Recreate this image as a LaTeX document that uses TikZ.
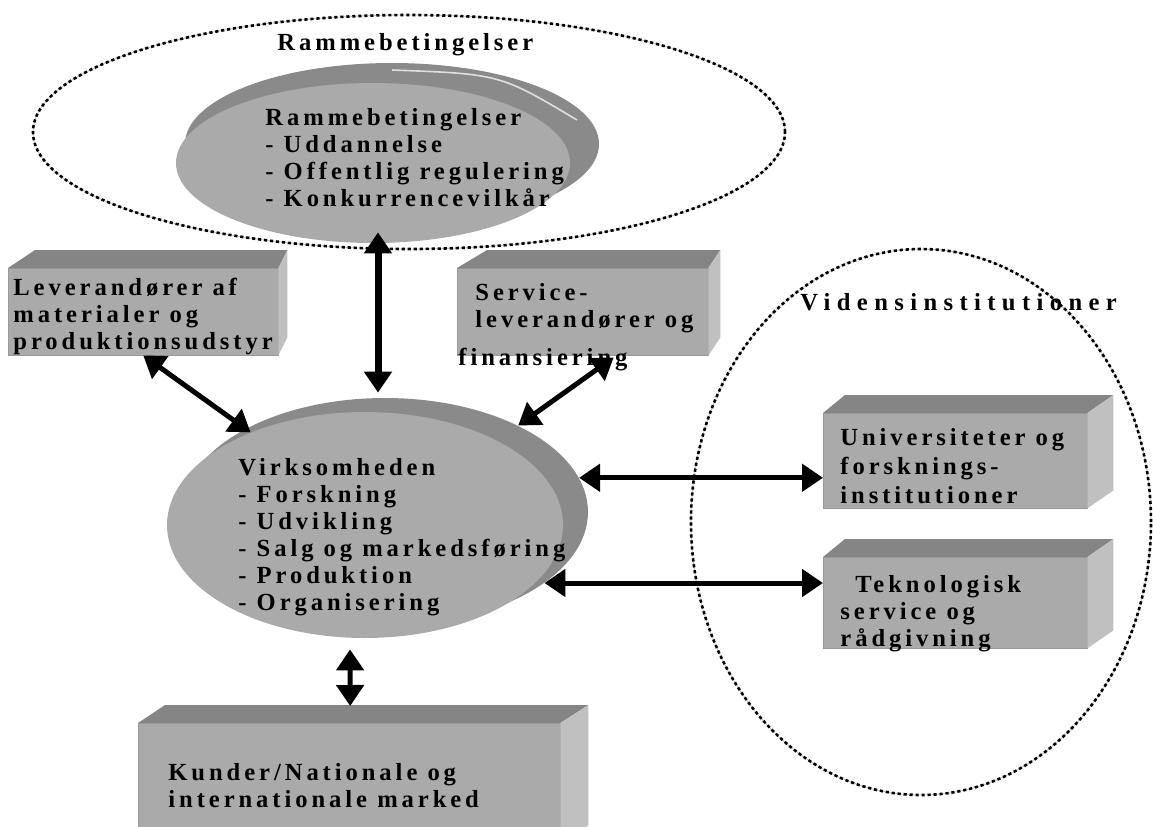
\documentclass[tikz,border=0pt]{standalone}
\usepackage{fontspec}
\setmainfont{Liberation Serif}
\newfontfamily\spaced[LetterSpace=16, BoldFont={Liberation Serif Bold}]{Liberation Serif}
\newfontfamily\wide[LetterSpace=26, BoldFont={Liberation Serif Bold}]{Liberation Serif}
\usetikzlibrary{positioning, shapes.geometric, arrows.meta, calc}
\definecolor{faceg}{RGB}{170,170,170}
\definecolor{topg}{RGB}{133,133,133}
\definecolor{sideg}{RGB}{192,192,192}
\definecolor{rimg}{RGB}{138,138,138}
\tikzstyle{arrow} = [line width=2.5pt, {Triangle[length=10.5pt,width=13.5pt]}-{Triangle[length=10.5pt,width=13.5pt]}]
\tikzstyle{boxface} = [rectangle, fill=faceg, draw=gray!80, very thin, inner sep=0pt, anchor=north west]
\tikzstyle{disc} = [ellipse, fill=faceg, inner sep=0pt]
\tikzstyle{rim} = [ellipse, fill=rimg, inner sep=0pt]
\tikzstyle{dotring} = [ellipse, draw=black, line width=1.3pt, dash pattern=on 1.6pt off 1.4pt, inner sep=0pt, preaction={draw=gray!50, line width=0.4pt, solid}]
\tikzstyle{lbl} = [anchor=base west, inner sep=0pt, yshift=-2.5pt, font=\spaced\bfseries\fontsize{12.3}{13.5}\selectfont]
\newcommand{\rows}[1]{\begin{tabular}[t]{@{}l@{}}#1\end{tabular}}
% top and right face of a box: name, left depth, right depth
\newcommand{\sides}[3]{%
  \fill[topg] (#1.north west) -- ++(#2,-18) -- ($(#1.north east)+(#3,-18)$) -- (#1.north east) -- cycle;
  \fill[sideg] (#1.north east) -- ++(#3,-18) -- ($(#1.south east)+(#3,-18)$) -- (#1.south east) -- cycle;}

\begin{document}
\begin{tikzpicture}[x=0.5pt, y=-0.5pt]
        \useasboundingbox (0,0) rectangle (1153,826);
        \clip (0,0) rectangle (1153,826);

        % Rings
        \node[dotring, minimum width=376pt, minimum height=117pt] (rammering) at (409,132) {};
        \node[dotring, minimum width=230pt, minimum height=273pt] (videnring) at (921,522) {};

        % Rammebetingelser disc
        \node[rim, minimum width=207pt, minimum height=81pt] (rammerim) at (392,144) {};
        \node[disc, minimum width=197pt, minimum height=80pt] (ramme) at (373,163) {};
        \draw[white!75!gray, line width=0.8pt] (392,70) .. controls (500,74) .. (577,120);

        % Virksomheden disc
        \node[rim, minimum width=203pt, minimum height=114pt] (virkrim) at (385,512) {};
        \node[disc, minimum width=198pt, minimum height=113pt] (virk) at (365,525) {};

        % Boxes
        \node[boxface, minimum width=135pt, minimum height=43.5pt] (lev) at (8,268) {};
        \sides{lev}{27}{9}
        \node[boxface, minimum width=125.5pt, minimum height=43.5pt] (serv) at (457,268) {};
        \sides{serv}{30}{12}
        \node[boxface, minimum width=132pt, minimum height=47.5pt] (univ) at (823,413) {};
        \sides{univ}{22}{26}
        \node[boxface, minimum width=132pt, minimum height=45.5pt] (tekno) at (823,557) {};
        \sides{tekno}{22}{26}
        \node[boxface, minimum width=211pt, minimum height=60pt] (kunder) at (138,723) {};
        \sides{kunder}{27}{28}

        % Texts
        \node[lbl] (rammetitel) at (277,45) {Rammebetingelser};
        \node[lbl] (rammetxt) at (265,120) {\rows{Rammebetingelser\\- Uddannelse\\- Offentlig regulering\\- Konkurrencevilkår}};
        \node[lbl] (levtxt) at (13,290) {\rows{Leverandører af\\materialer og\\produktionsudstyr}};
        \node[lbl] (servtxt) at (475,295) {\rows{Service-\\leverandører og\\[5.5pt]\hspace*{-8.5pt}finansiering}};
        \node[lbl, font=\wide\bfseries\fontsize{12.3}{13.5}\selectfont] (videntitel) at (800,305) {Vidensinstitutioner};
        \node[lbl] (univtxt) at (840,440) {\rows{Universiteter og\\[1pt]forsknings-\\[1pt]institutioner}};
        \node[lbl] (teknotxt) at (840,587) {\rows{\hspace*{7.5pt}Teknologisk\\service og\\rådgivning}};
        \node[lbl] (virktxt) at (238,470) {\rows{Virksomheden\\- Forskning\\- Udvikling\\- Salg og markedsføring\\- Produktion\\- Organisering}};
        \node[lbl] (kundertxt) at (168,775) {\rows{Kunder/Nationale og\\internationale marked}};

        % Arrows
        \draw[arrow, line width=3.5pt] ($(ramme.south)+(5,-11)$) -- ($(virk.north)+(13,-19)$);
        \draw[arrow] (lev.south) -- (virk.141);
        \draw[arrow] ($(serv.south)+(31,2)$) -- (virkrim.33);
        \draw[arrow] (virkrim.10) -- (virkrim.10 -| univ.west);
        \draw[arrow] (virkrim.-24) -- (virkrim.-24 -| tekno.west);
        \draw[arrow] ($(virk.south)+(-15,11)$) -- ($(kunder.north)+(1,-17)$);

    \end{tikzpicture}
\end{document}
